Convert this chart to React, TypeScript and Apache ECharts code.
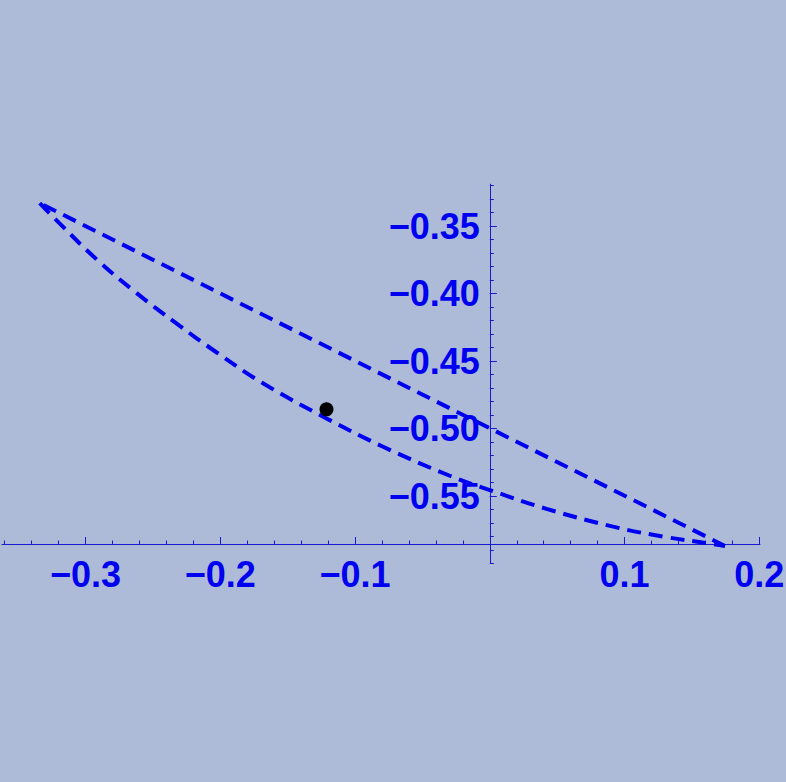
import React, { useEffect, useRef } from "react";
import * as echarts from "echarts";

// Upper straight edge of the loop (x, y)
const upperEdge: [number, number][] = [
  [0.1745, -0.587],
  [-0.334, -0.333],
];

// Lower curved edge of the loop (x, y)
const lowerEdge: [number, number][] = [
  [-0.334, -0.333],
  [-0.3217, -0.3456],
  [-0.292, -0.3745],
  [-0.2623, -0.3995],
  [-0.2326, -0.4221],
  [-0.2029, -0.4435],
  [-0.1683, -0.4665],
  [-0.1212, -0.4925],
  [-0.0792, -0.5135],
  [-0.0297, -0.5350],
  [0.0, -0.5456],
  [0.0421, -0.5595],
  [0.0915, -0.5727],
  [0.1312, -0.5805],
  [0.1658, -0.5856],
  [0.1745, -0.587],
];

// Single point
const dotPoint: [number, number][] = [[-0.1212, -0.4858]];

// Tick labels / tick values
const xLabelTicks = [-0.3, -0.2, -0.1, 0.1, 0.2];
const yLabelTicks = [-0.55, -0.5, -0.45, -0.4, -0.35];

const X_MIN = -0.362;
const X_MAX = 0.2005;
const Y_MIN = -0.6;
const Y_MAX = -0.319;

const xMinorTicks: number[] = [];
for (let i = -18; i <= 10; i++) xMinorTicks.push(Math.round(i * 2) / 100);
const yMinorTicks: number[] = [];
for (let i = -60; i <= -32; i++) yMinorTicks.push(i / 100);

const BLUE = "#0000f0";
const AXIS = "#1a1ad0";
const BG = "#aebbd8";

const GRID_LEFT = 2;
const GRID_RIGHT = 26;
const CHART_W = 786;
// pixel offset of the vertical axis (x = 0) from the grid's left edge
const Y_AXIS_SHIFT = ((0 - X_MIN) / (X_MAX - X_MIN)) * (CHART_W - GRID_LEFT - GRID_RIGHT);

const fmtX = (v: number) => (v < 0 ? "\u2212" : "") + Math.abs(v).toFixed(1);
const fmtY = (v: number) => (v < 0 ? "\u2212" : "") + Math.abs(v).toFixed(2);

export default function App() {
  const ref = useRef<HTMLDivElement>(null);
  useEffect(() => {
    document.body.style.margin = "0";
    document.body.style.background = BG;
    const chart = echarts.init(ref.current!, null, { renderer: "svg" });
    const labelStyle = {
      color: BLUE,
      fontSize: 36,
      fontWeight: "bold" as const,
      fontFamily: "Liberation Sans, Arial, sans-serif",
    };
    chart.setOption({
      animation: false,
      backgroundColor: BG,
      grid: {
        left: GRID_LEFT,
        right: GRID_RIGHT,
        top: 184.2,
        bottom: 218.5,
        containLabel: false,
        outerBoundsMode: "none",
      },
      xAxis: [
        {
          type: "value",
          min: X_MIN,
          max: X_MAX,
          position: "bottom",
          offset: -19.5,
          axisLine: { onZero: false, lineStyle: { color: AXIS, width: 1 } },
          axisTick: {
            inside: true,
            length: 7,
            customValues: xLabelTicks,
            lineStyle: { color: AXIS, width: 1 },
          },
          axisLabel: {
            ...labelStyle,
            margin: 12,
            customValues: xLabelTicks,
            formatter: fmtX,
          },
          splitLine: { show: false },
        },
        {
          type: "value",
          min: X_MIN,
          max: X_MAX,
          position: "bottom",
          offset: -19.5,
          axisLine: { show: false, onZero: false },
          axisTick: {
            inside: true,
            length: 3.5,
            customValues: xMinorTicks,
            lineStyle: { color: AXIS, width: 1 },
          },
          axisLabel: { show: false },
          splitLine: { show: false },
        },
      ],
      yAxis: [
        {
          type: "value",
          min: Y_MIN,
          max: Y_MAX,
          position: "left",
          offset: -Y_AXIS_SHIFT,
          axisLine: { onZero: false, lineStyle: { color: AXIS, width: 1 } },
          axisTick: {
            inside: true,
            length: 7,
            customValues: yLabelTicks,
            lineStyle: { color: AXIS, width: 1 },
          },
          axisLabel: {
            ...labelStyle,
            margin: 10,
            customValues: yLabelTicks,
            formatter: fmtY,
          },
          splitLine: { show: false },
        },
        {
          type: "value",
          min: Y_MIN,
          max: Y_MAX,
          position: "left",
          offset: -Y_AXIS_SHIFT,
          axisLine: { show: false, onZero: false },
          axisTick: {
            inside: true,
            length: 4,
            customValues: yMinorTicks,
            lineStyle: { color: AXIS, width: 1 },
          },
          axisLabel: { show: false },
          splitLine: { show: false },
        },
      ],
      series: [
        {
          type: "line",
          xAxisIndex: 0,
          yAxisIndex: 0,
          data: upperEdge,
          showSymbol: false,
          symbol: "none",
          lineStyle: { color: BLUE, width: 4, type: [14, 8] },
          silent: true,
        },
        {
          type: "line",
          xAxisIndex: 0,
          yAxisIndex: 0,
          data: lowerEdge,
          smooth: 0.4,
          showSymbol: false,
          symbol: "none",
          lineStyle: { color: BLUE, width: 4, type: [14, 8] },
          silent: true,
        },
        {
          type: "scatter",
          xAxisIndex: 0,
          yAxisIndex: 0,
          data: dotPoint,
          symbol: "circle",
          symbolSize: 14,
          itemStyle: { color: "#000000", opacity: 1 },
          silent: true,
          z: 5,
        },
      ],
    });
    return () => chart.dispose();
  }, []);
  return (
    <div
      ref={ref}
      style={{ position: "fixed", left: 0, top: 0, width: 786, height: 782 }}
    />
  );
}
